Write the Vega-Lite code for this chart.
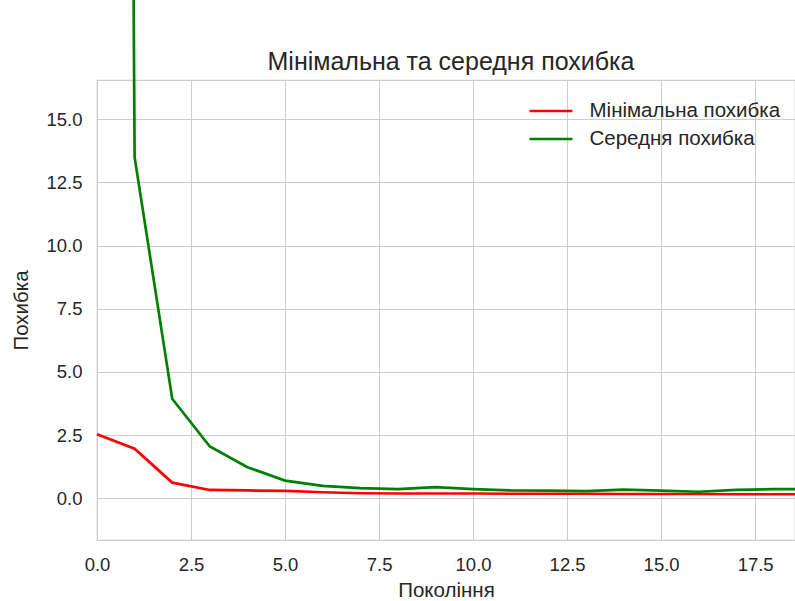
{
  "$schema": "https://vega.github.io/schema/vega-lite/v6.json",
  "autosize": {"type": "none"},
  "padding": {"left": 97, "top": 80, "right": 0, "bottom": 61},
  "width": 698,
  "height": 460,
  "background": "white",
  "title": {
    "text": "Мінімальна та середня похибка",
    "frame": "group",
    "font": "Liberation Sans",
    "fontSize": 25,
    "fontWeight": "normal",
    "color": "#262626",
    "anchor": "middle",
    "baseline": "alphabetic",
    "dx": 5,
    "offset": -5921
  },
  "data": {
    "values": [
      {"gen": 0, "series": "Мінімальна похибка", "err": 2.53},
      {"gen": 1, "series": "Мінімальна похибка", "err": 1.96},
      {"gen": 2, "series": "Мінімальна похибка", "err": 0.62},
      {"gen": 3, "series": "Мінімальна похибка", "err": 0.33},
      {"gen": 4, "series": "Мінімальна похибка", "err": 0.31},
      {"gen": 5, "series": "Мінімальна похибка", "err": 0.29},
      {"gen": 6, "series": "Мінімальна похибка", "err": 0.24},
      {"gen": 7, "series": "Мінімальна похибка", "err": 0.2},
      {"gen": 8, "series": "Мінімальна похибка", "err": 0.19},
      {"gen": 9, "series": "Мінімальна похибка", "err": 0.19},
      {"gen": 10, "series": "Мінімальна похибка", "err": 0.19},
      {"gen": 11, "series": "Мінімальна похибка", "err": 0.18},
      {"gen": 12, "series": "Мінімальна похибка", "err": 0.18},
      {"gen": 13, "series": "Мінімальна похибка", "err": 0.18},
      {"gen": 14, "series": "Мінімальна похибка", "err": 0.17},
      {"gen": 15, "series": "Мінімальна похибка", "err": 0.17},
      {"gen": 16, "series": "Мінімальна похибка", "err": 0.17},
      {"gen": 17, "series": "Мінімальна похибка", "err": 0.16},
      {"gen": 18, "series": "Мінімальна похибка", "err": 0.16},
      {"gen": 19, "series": "Мінімальна похибка", "err": 0.16},
      {"gen": 0, "series": "Середня похибка", "err": 250},
      {"gen": 1, "series": "Середня похибка", "err": 13.5},
      {"gen": 2, "series": "Середня похибка", "err": 3.94},
      {"gen": 3, "series": "Середня похибка", "err": 2.05},
      {"gen": 4, "series": "Середня похибка", "err": 1.23},
      {"gen": 5, "series": "Середня похибка", "err": 0.7},
      {"gen": 6, "series": "Середня похибка", "err": 0.49},
      {"gen": 7, "series": "Середня похибка", "err": 0.4},
      {"gen": 8, "series": "Середня похибка", "err": 0.36},
      {"gen": 9, "series": "Середня похибка", "err": 0.44},
      {"gen": 10, "series": "Середня похибка", "err": 0.36},
      {"gen": 11, "series": "Середня похибка", "err": 0.31},
      {"gen": 12, "series": "Середня похибка", "err": 0.3},
      {"gen": 13, "series": "Середня похибка", "err": 0.28},
      {"gen": 14, "series": "Середня похибка", "err": 0.34},
      {"gen": 15, "series": "Середня похибка", "err": 0.3},
      {"gen": 16, "series": "Середня похибка", "err": 0.26},
      {"gen": 17, "series": "Середня похибка", "err": 0.33},
      {"gen": 18, "series": "Середня похибка", "err": 0.36},
      {"gen": 19, "series": "Середня похибка", "err": 0.36}
    ]
  },
  "mark": {"type": "line", "strokeWidth": 2.7, "clip": false, "interpolate": "linear"},
  "encoding": {
    "x": {
      "field": "gen",
      "type": "quantitative",
      "title": "Покоління",
      "scale": {"domain": [0, 18.56], "nice": false, "zero": false},
      "axis": {"values": [0, 2.5, 5, 7.5, 10, 12.5, 15, 17.5], "format": ".1f", "labelFlush": false, "titlePadding": 7}
    },
    "y": {
      "field": "err",
      "type": "quantitative",
      "title": "Похибка",
      "scale": {"domain": [-1.65, 16.55], "nice": false, "zero": false},
      "axis": {"values": [0, 2.5, 5, 7.5, 10, 12.5, 15], "format": ".1f", "labelFlush": false, "titlePadding": 14}
    },
    "color": {
      "field": "series",
      "type": "nominal",
      "scale": {"domain": ["Мінімальна похибка", "Середня похибка"], "range": ["#ff0000", "#008000"]},
      "legend": {
        "title": null,
        "orient": "none",
        "legendX": 437.5,
        "legendY": 14.5,
        "symbolType": "M-1.43,0H1.43",
        "symbolSize": 900,
        "symbolStrokeWidth": 2.7,
        "labelFontSize": 20.5,
        "labelFont": "Liberation Sans",
        "labelColor": "#262626",
        "labelLimit": 400,
        "labelOffset": 22,
        "rowPadding": 1,
        "padding": 0
      }
    }
  },
  "config": {
    "view": {"stroke": "#cccccc", "strokeWidth": 1.25},
    "axis": {
      "domain": false,
      "ticks": false,
      "grid": true,
      "gridColor": "#cccccc",
      "gridWidth": 1,
      "labelFont": "Liberation Sans",
      "labelFontSize": 18.5,
      "labelColor": "#262626",
      "labelPadding": 15,
      "titleFont": "Liberation Sans",
      "titleFontSize": 20.5,
      "titleFontWeight": "normal",
      "titleColor": "#262626"
    }
  }
}
